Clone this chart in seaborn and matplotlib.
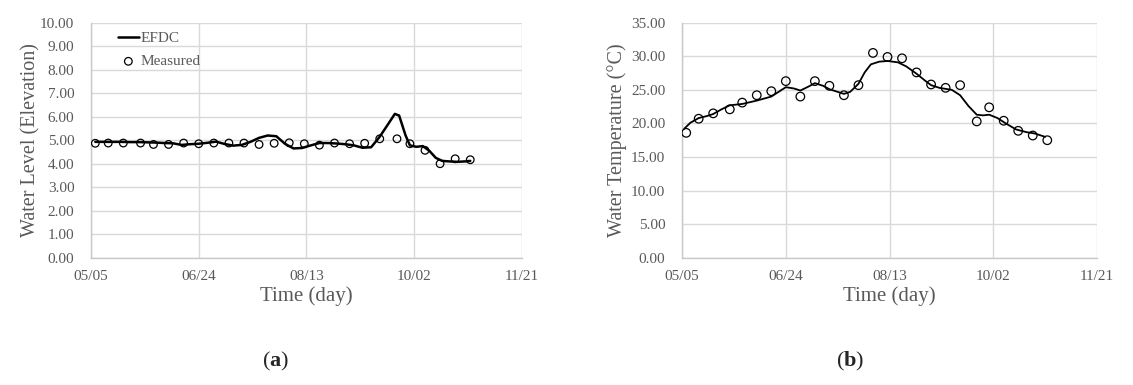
import numpy as np
import pandas as pd
import matplotlib
matplotlib.use("Agg")
import matplotlib.pyplot as plt
import seaborn as sns

# ---- data (days since 05/05) ----
tick_days = [0, 50, 100, 150, 200]
tick_labels = ["05/05", "06/24", "08/13", "10/02", "11/21"]

meas_days = [2, 8, 15, 23, 29, 36, 43, 50, 57, 64, 71, 78, 85, 92, 99, 106,
             113, 120, 127, 134, 142, 148, 155, 162, 169, 176]

level_meas = [4.87, 4.88, 4.88, 4.88, 4.82, 4.82, 4.88, 4.85, 4.88, 4.88, 4.88,
              4.82, 4.87, 4.89, 4.85, 4.79, 4.88, 4.85, 4.87, 5.06, 5.06, 4.85,
              4.57, 4.00, 4.21, 4.17]

temp_meas = [18.6, 20.7, 21.5, 22.1, 23.1, 24.2, 24.8, 26.3, 24.0, 26.3, 25.6,
             24.2, 25.7, 30.5, 29.9, 29.7, 27.6, 25.8, 25.3, 25.7, 20.3, 22.4,
             20.4, 18.9, 18.2, 17.5]

level_days = [2, 6, 10, 14, 18, 22, 26, 30, 34, 38, 42, 46, 50, 54, 58, 62, 66,
              70, 74, 78, 82, 86, 90, 94, 98, 102, 106, 110, 114, 118, 122, 126,
              130, 134, 138, 141, 143, 146, 148, 151, 154, 157, 160, 163, 166,
              170, 174, 176]
level_efdc = [4.93, 4.93, 4.93, 4.93, 4.92, 4.92, 4.91, 4.90, 4.88, 4.87, 4.80,
              4.83, 4.85, 4.89, 4.94, 4.84, 4.77, 4.80, 4.93, 5.10, 5.20, 5.17,
              4.85, 4.65, 4.67, 4.78, 4.88, 4.88, 4.86, 4.83, 4.78, 4.68, 4.70,
              5.15, 5.70, 6.12, 6.05, 5.20, 4.78, 4.72, 4.75, 4.55, 4.25, 4.12,
              4.10, 4.08, 4.10, 4.12]

temp_days = [1, 4, 8, 12, 15, 19, 23, 29, 36, 43, 47, 50, 54, 57, 61, 64, 68,
             71, 75, 78, 81, 85, 88, 91, 95, 99, 104, 108, 113, 117, 120, 124,
             130, 134, 138, 142, 145, 148, 152, 156, 161, 166, 170, 175]
temp_efdc = [19.2, 20.1, 20.8, 21.1, 21.4, 22.1, 22.7, 22.9, 23.4, 24.0, 24.8,
             25.4, 25.2, 24.9, 25.5, 26.0, 25.6, 25.1, 24.7, 24.4, 24.7, 25.9,
             27.6, 28.8, 29.2, 29.3, 29.1, 28.5, 27.4, 26.4, 25.7, 25.3, 25.0,
             24.2, 22.6, 21.3, 21.2, 21.3, 20.8, 20.0, 19.1, 18.7, 18.5, 18.0]

sns.set_theme(style="whitegrid")
plt.rcParams["font.family"] = ["Liberation Serif", "DejaVu Serif"]
plt.rcParams["mathtext.fontset"] = "custom"
plt.rcParams["mathtext.bf"] = "Liberation Serif:bold"
plt.rcParams["mathtext.rm"] = "Liberation Serif"
gray = "#595959"

fig = plt.figure(figsize=(11.33, 3.85), dpi=100)
ax1 = fig.add_axes([0.0803, 0.3306, 0.3804, 0.6104])
ax2 = fig.add_axes([0.6020, 0.3306, 0.3663, 0.6104])


def style_axis(ax, ymax, ystep, ylabel, ypad):
    ax.set_xlim(0, 200)
    ax.set_ylim(0, ymax)
    ax.set_xticks(tick_days)
    ax.set_xticklabels(tick_labels)
    ax.set_yticks(np.arange(0, ymax + 0.001, ystep))
    ax.set_yticklabels([f"{v:.2f}" for v in np.arange(0, ymax + 0.001, ystep)])
    ax.grid(True, color="#d9d9d9", linewidth=1.0)
    for s in ["top", "right"]:
        ax.spines[s].set_visible(False)
    for s in ["left", "bottom"]:
        ax.spines[s].set_color("#c8c8c8")
        ax.spines[s].set_linewidth(1.0)
    ax.tick_params(axis="y", length=0, labelsize=11, labelcolor=gray, pad=12)
    ax.tick_params(axis="x", length=0, labelsize=11, labelcolor=gray, pad=9)
    ax.set_xlabel("Time (day)", fontsize=15, color=gray, labelpad=2)
    ax.set_ylabel(ylabel, fontsize=14.5, color=gray, labelpad=ypad)
    ax.set_facecolor("white")


# (a) water level
sns.lineplot(x=level_days, y=level_efdc, ax=ax1, color="black", linewidth=1.8,
             label="EFDC")
sns.scatterplot(x=meas_days, y=level_meas, ax=ax1, marker="o", s=30,
                facecolor="none", edgecolor="black", linewidth=0.9,
                label="Measured", zorder=3)
style_axis(ax1, 10, 1, "Water Level (Elevation)", 0)
leg = ax1.legend(loc="upper left", bbox_to_anchor=(0.03, 1.02), frameon=False,
                 fontsize=11, handlelength=1.4, handletextpad=0.1,
                 labelspacing=0.6)
for t in leg.get_texts():
    t.set_color(gray)

# (b) water temperature
sns.lineplot(x=temp_days, y=temp_efdc, ax=ax2, color="black", linewidth=1.3)
sns.scatterplot(x=meas_days, y=temp_meas, ax=ax2, marker="o", s=38,
                facecolor="none", edgecolor="black", linewidth=0.9, zorder=3)
style_axis(ax2, 35, 5, "Water Temperature (°C)", 3)

fig.text(0.243, 0.06, r"($\mathbf{a}$)", fontsize=16, ha="center", va="center")
fig.text(0.750, 0.06, r"($\mathbf{b}$)", fontsize=16, ha="center", va="center")

fig.savefig("out.png", dpi=100, facecolor="white")
